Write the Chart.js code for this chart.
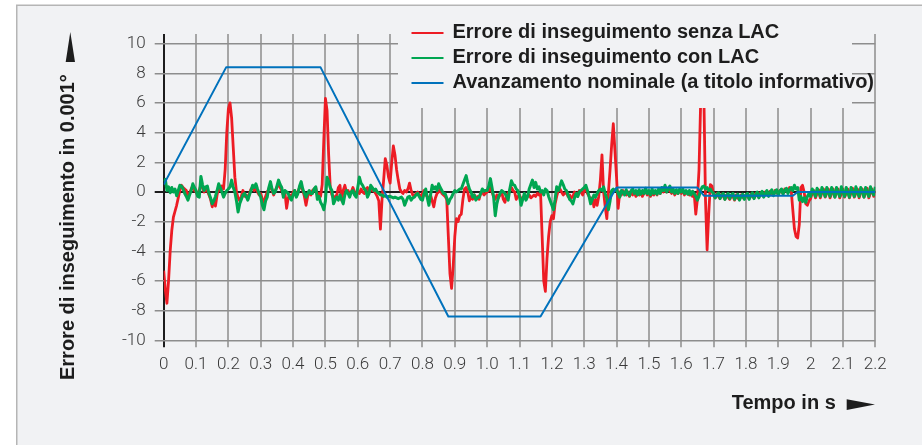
<!DOCTYPE html>
<html>
<head>
<meta charset="utf-8">
<title>Errore di inseguimento</title>
<script src="https://cdn.jsdelivr.net/npm/chart.js@4"></script>
<style>
  html, body { margin: 0; padding: 0; background: #fff; }
  #wrap { width: 922px; height: 445px; }
</style>
</head>
<body>
<div id="wrap"><canvas id="graficoErrore"></canvas></div>
<script>
// campionamento dei due errori: un valore ogni 5 ms, da 0 a 2.2 s
const sampleStep = 0.005;

const errSenzaLac = [
  -5.3, -6.6, -7.5, -6.0, -4.0, -2.6, -1.7, -1.3, -0.9, -0.4,
  0.1, 0.45, 0.3, 0.2, 0.1, -0.3, -0.1, 0.2, 0.4, 0.1,
  0.0, -0.2, 0.1, 0.5, 0.3, 0.0, 0.2, 0.1, -0.2, -0.5,
  -1.0, -0.6, -0.95, -0.2, 0.3, 0.1, 0.4, 0.2, 1.5, 4.0,
  5.6, 6.0, 5.0, 3.0, 1.0, 0.0, -0.4, -0.6, -0.3, 0.1,
  -0.3, -0.2, -0.5, -0.1, 0.2, 0.3, 0.1, 0.3, 0.0, -0.2,
  -0.1, -0.5, -0.7, -0.3, 0.0, 0.2, 0.4, 0.1, -0.2, 0.1,
  0.3, 0.6, 0.3, 0.1, -0.2, -0.1, -1.1, -0.4, -0.2, -0.4,
  0.0, 0.1, -0.3, 0.0, 0.3, 0.4, 0.1, -0.3, -0.9, -0.3,
  0.0, -0.2, 0.1, 0.2, 0.3, -0.2, -0.1, -0.3, 0.5, 3.5,
  6.3, 5.5, 2.5, 0.3, -0.2, -0.4, -0.3, -0.2, 0.3, 0.45,
  -0.55, 0.1, 0.45, 0.0, 0.1, -0.2, 0.0, 0.3, 0.0, -0.2,
  0.0, -0.1, 0.2, 0.0, -0.1, 0.2, 0.3, 0.0, 0.2, 0.1,
  0.1, -0.1, -0.3, -0.6, -2.5, -0.5, 0.8, 2.25, 1.8, 1.0,
  0.6, 2.0, 3.1, 2.5, 1.5, 0.8, 0.2, 0.0, -0.1, 0.1,
  0.0, 0.2, 0.6, 0.1, -0.2, -0.3, -0.1, 0.0, -0.2, -0.3,
  -0.1, 0.1, -0.2, -0.3, -0.5, -0.2, -0.6, -1.0, -0.4, -0.1,
  0.0, 0.2, -0.1, -0.2, -0.3, -0.5, -3.0, -5.5, -6.5, -5.0,
  -3.0, -1.8, -2.0, -1.6, -1.5, -0.5, 0.2, 0.3, 0.0, -0.6,
  -0.3, -0.5, -0.2, -0.4, -0.3, -0.5, -0.1, 0.0, -0.2, -0.1,
  0.0, 0.1, 0.3, 0.0, -0.3, -0.5, -0.2, -0.4, -0.2, 0.0,
  -0.5, -0.7, -0.2, -0.1, 0.1, 0.3, 0.1, 0.0, -0.5, -0.3,
  -0.2, -0.5, -0.4, -0.3, -0.5, -0.3, -0.2, -0.4, -0.3, -0.2,
  -0.3, -0.1, -0.2, 0.0, -3.0, -6.0, -6.7, -4.5, -3.0, -2.0,
  -1.6, -1.8, -0.8, -0.3, 0.1, 0.2, 0.0, -0.2, -0.1, 0.0,
  -0.3, -0.2, -0.4, -0.3, 0.0, -0.1, -0.3, 0.1, 0.0, -0.2,
  0.1, 0.2, -0.1, -0.3, -0.5, -0.4, -1.0, -0.5, -0.9, -0.3,
  0.8, 2.5, 0.0, -1.0, -1.8, 0.0, 1.5, 3.2, 4.6, 2.8,
  1.0, -1.1, 0.0, -0.2, 0.1, -0.1, -0.2, 0.0, -0.3, 0.0,
  -0.2, 0.0, -0.3, -0.1, -0.2, 0.0, -0.3, -0.1, 0.1, -0.2,
  0.0, -0.3, -0.1, -0.2, 0.0, -0.2, 0.1, -0.1, 0.2, 0.0,
  0.3, 0.0, 0.2, 0.1, -0.1, 0.1, -0.2, 0.0, -0.1, 0.1,
  -0.1, 0.1, -0.2, 0.0, -0.1, -0.2, 0.0, -0.3, -0.1, -1.5,
  -0.5, 1.5, 6.0, 10.0, 6.5, -0.5, -3.9, -1.5, 0.5, 0.4,
  -0.2, -0.4, -0.1, -0.3, -0.45, -0.15, -0.3, -0.5, -0.2, -0.35,
  -0.5, -0.25, -0.3, -0.55, -0.2, -0.4, -0.5, -0.2, -0.35, -0.45,
  -0.2, -0.3, -0.45, -0.15, -0.3, -0.4, -0.1, -0.25, -0.35, -0.05,
  -0.2, -0.3, 0.0, -0.15, -0.25, 0.05, -0.1, -0.2, 0.1, -0.05,
  -0.15, 0.1, 0.0, -0.1, 0.2, 0.05, 0.0, 0.3, 0.1, -1.2,
  -2.5, -3.0, -3.1, -2.2, 0.3, 0.45, 0.0, -0.8, -0.9, -0.6,
  -0.45, -0.1, 0.1, -0.4, -0.1, 0.15, -0.4, -0.05, 0.2, -0.35,
  -0.1, 0.2, -0.4, -0.1, 0.2, -0.35, -0.05, 0.2, -0.4, -0.1,
  0.2, -0.35, -0.1, 0.2, -0.4, -0.05, 0.25, -0.35, -0.1, 0.2,
  -0.4, -0.05, 0.2, -0.35, -0.1, 0.25, -0.4, -0.05, 0.2, -0.3,
  0.1
];

const errConLac = [
  0.7, 0.85, 0.1, 0.35, -0.05, 0.3, 0.0, 0.2, -0.25, 0.1,
  0.45, 0.4, 0.2, -0.1, -0.3, -0.55, -0.2, 0.1, 0.55, 0.3,
  0.1, -0.3, -0.35, 1.05, 0.5, 0.1, 0.35, 0.4, -0.1, -0.4,
  -0.8, -0.6, -0.3, 0.1, 0.55, 0.3, 0.0, -0.35, -0.1, 0.1,
  0.2, 0.35, 0.8, 0.3, 0.0, -0.6, -1.35, -0.8, -0.5, -0.2,
  -0.1, -0.3, -0.55, -0.2, 0.1, 0.45, 0.3, 0.55, 0.2, -0.1,
  -0.35, -0.9, -1.2, -0.6, -0.35, 0.3, 0.7, 0.2, -0.1, 0.0,
  0.4, 0.8, 0.5, 0.3, -0.35, 0.1, 0.0, -0.1, -0.4, -0.55,
  -0.2, 0.1, -0.35, -0.1, 0.4, 0.7, 0.2, -0.1, -0.35, -0.1,
  0.1, -0.1, -0.1, 0.2, 0.35, -0.5, -0.3, -0.7, -0.9, -1.2,
  -0.6, 1.0, 0.7, 0.3, 0.1, -0.8, -0.55, -0.35, -0.55, -0.2,
  -0.5, -0.8, -0.2, 0.1, -0.1, -0.35, 0.0, 0.1, -0.2, -0.35,
  0.3, 1.0, 0.6, 0.45, 0.2, 0.1, -0.35, -0.1, 0.45, 0.3,
  0.1, 0.2, 0.0, -0.1, -0.2, -0.2, -0.3, -0.25, -0.35, -0.3,
  -0.3, -0.35, -0.4, -0.35, -0.4, -0.45, -0.4, -0.35, -0.5, -0.9,
  -0.6, -0.35, -0.3, -0.55, -0.4, -0.35, -0.2, -0.1, -0.3, -0.5,
  -0.55, -0.1, 0.2, -0.4, -0.9, -0.2, 0.45, 0.2, 0.35, 0.1,
  0.55, 0.3, 0.1, -0.1, -0.1, -0.4, -0.8, -0.5, -0.35, -0.1,
  0.1, 0.0, 0.1, 0.2, 0.2, 0.5, 0.8, 1.1, 0.6, 0.2,
  0.0, -0.35, -0.2, -0.55, -0.4, -0.35, -0.1, 0.2, 0.05, 0.1,
  0.1, 0.4, 0.9, 0.3, -0.35, -1.6, -0.8, -0.35, -0.1, 0.1,
  0.0, -0.1, -0.3, -0.55, 0.2, 0.75, 0.5, 0.45, 0.2, 0.1,
  -0.3, -0.9, -0.5, -0.1, -0.55, -0.3, 0.2, 0.5, 0.8, 0.3,
  0.65, 0.2, 0.35, 0.0, 0.1, -0.2, 0.2, 0.1, -0.3, -0.6,
  -0.9, -1.2, -0.5, 0.35, 0.1, 0.4, 0.75, 0.5, 0.2, 0.1,
  -0.2, -0.5, -0.6, -0.8, -0.4, -0.1, -0.3, 0.0, 0.1, 0.2,
  0.3, 0.45, 0.1, -0.3, -0.8, -0.5, -0.2, -0.35, -0.1, 0.1,
  0.2, 0.1, 0.35, -0.1, -0.45, -1.2, -0.6, 0.1, 0.2, 0.1,
  0.2, -0.1, -0.35, 0.1, 0.0, -0.2, 0.15, -0.1, -0.25, 0.1,
  0.2, -0.1, 0.1, -0.2, 0.15, -0.15, 0.1, -0.1, 0.25, -0.1,
  0.1, -0.2, 0.2, -0.1, 0.1, -0.15, 0.2, -0.1, 0.3, 0.1,
  0.45, 0.0, 0.2, 0.4, 0.0, 0.2, -0.1, 0.15, -0.1, 0.2,
  0.0, 0.2, -0.1, 0.1, -0.15, 0.1, -0.2, 0.05, -0.1, -0.3,
  -0.55, -0.3, 0.1, 0.35, 0.4, 0.2, 0.3, 0.1, 0.2, 0.0,
  -0.1, -0.4, -0.2, -0.05, -0.45, -0.2, -0.1, -0.5, -0.25, -0.1,
  -0.45, -0.2, -0.1, -0.5, -0.3, -0.15, -0.55, -0.3, -0.15, -0.5,
  -0.2, -0.1, -0.5, -0.25, -0.05, -0.45, -0.2, 0.0, -0.4, -0.15,
  0.05, -0.35, -0.1, 0.1, -0.3, -0.05, 0.15, -0.25, 0.0, 0.15,
  -0.2, 0.05, 0.2, -0.15, 0.1, 0.25, -0.1, 0.15, 0.3, 0.1,
  0.45, 0.2, 0.3, -0.55, -0.3, -0.65, -0.4, -0.7, -0.3, -0.1,
  -0.3, 0.2, 0.0, -0.3, 0.25, 0.0, -0.3, 0.3, 0.0, -0.3,
  0.3, -0.05, -0.3, 0.3, 0.0, -0.35, 0.3, -0.05, -0.3, 0.35,
  0.0, -0.3, 0.3, -0.05, -0.35, 0.3, 0.0, -0.3, 0.35, -0.05,
  -0.3, 0.3, 0.0, -0.35, 0.3, -0.05, -0.3, 0.35, 0.0, -0.2,
  0.35
];

// avanzamento nominale: punti d'angolo del profilo
const avanzTempi = [0, 0.193, 0.485, 0.88, 1.165, 1.40, 1.65, 1.67, 1.945, 1.96, 2.2];
const avanzValori = [0.5, 8.4, 8.4, -8.4, -8.4, 0.3, 0.3, -0.25, -0.25, 0, 0];

const xTickValues = [0, 0.1, 0.2, 0.3, 0.4, 0.5, 0.6, 0.7, 0.8, 0.9, 1.0, 1.1,
  1.2, 1.3, 1.4, 1.5, 1.6, 1.7, 1.8, 1.9, 2.0, 2.1, 2.2];
const xTickLabels = ["0", "0.1", "0.2", "0.3", "0.4", "0.5", "0.6", "0.7", "0.8", "0.9", "1.0", "1.1",
  "1.2", "1.3", "1.4", "1.5", "1.6", "1.7", "1.8", "1.9", "2", "2.1", "2.2"];
const yTickValues = [-10, -8, -6, -4, -2, 0, 2, 4, 6, 8, 10];
const yTickLabels = ["-10", "-8", "-6", "-4", "-2", "0", "2", "4", "6", "8", "10"];

const serieLabels = [
  "Errore di inseguimento senza LAC",
  "Errore di inseguimento con LAC",
  "Avanzamento nominale (a titolo informativo)"
];
const titoloY = "Errore di inseguimento in 0.001°";
const titoloX = "Tempo in s";

const fontBold = 'bold 20px "Liberation Sans", Arial, sans-serif';
const fontTick = { family: 'Roboto, "Liberation Sans", sans-serif', size: 17, weight: 300 };
const coloreSfondo = '#f1f2f4';

function puntiCampionati(valori) {
  return valori.map((v, i) => ({ x: Math.round(i * sampleStep * 1000) / 1000, y: v }));
}

// sfondo del riquadro con bordo sinistro e superiore
const sfondo = {
  id: 'sfondo',
  beforeDraw(chart) {
    const ctx = chart.ctx;
    ctx.save();
    ctx.fillStyle = '#ffffff';
    ctx.fillRect(0, 0, chart.width, chart.height);
    ctx.fillStyle = coloreSfondo;
    ctx.fillRect(17, 5, chart.width - 17, chart.height - 5);
    ctx.strokeStyle = '#b5b5b5';
    ctx.lineWidth = 1.5;
    ctx.beginPath();
    ctx.moveTo(16.75, chart.height);
    ctx.lineTo(16.75, 5.25);
    ctx.lineTo(chart.width, 5.25);
    ctx.stroke();
    ctx.restore();
  }
};

// legenda in alto a destra, su fondo pieno sopra la griglia
const legenda = {
  id: 'legenda',
  afterDatasetsDraw(chart) {
    const ctx = chart.ctx;
    ctx.save();
    ctx.fillStyle = coloreSfondo;
    ctx.fillRect(398, 12, 454, 96);
    ctx.font = fontBold;
    ctx.textBaseline = 'middle';
    ctx.textAlign = 'left';
    chart.data.datasets.forEach((ds, i) => {
      const y = 33 + i * 25;
      ctx.strokeStyle = ds.borderColor;
      ctx.lineWidth = 2;
      ctx.beginPath();
      ctx.moveTo(411.5, y);
      ctx.lineTo(443.5, y);
      ctx.stroke();
      ctx.fillStyle = '#1d1d1d';
      ctx.fillText(ds.label, 452.5, y - 1);
    });
    ctx.restore();
  }
};

// titoli degli assi con le frecce
const titoliAssi = {
  id: 'titoliAssi',
  afterDraw(chart) {
    const ctx = chart.ctx;
    ctx.save();
    ctx.font = fontBold;
    ctx.fillStyle = '#1d1d1d';

    ctx.save();
    ctx.translate(73.5, 380);
    ctx.rotate(-Math.PI / 2);
    ctx.textAlign = 'left';
    ctx.textBaseline = 'alphabetic';
    ctx.fillText(titoloY, 0, 0);
    ctx.restore();

    ctx.beginPath();
    ctx.moveTo(70.3, 32);
    ctx.lineTo(75, 62);
    ctx.lineTo(65.7, 62);
    ctx.closePath();
    ctx.fill();

    ctx.textAlign = 'left';
    ctx.textBaseline = 'alphabetic';
    ctx.fillText(titoloX, 731.7, 409.3);

    ctx.beginPath();
    ctx.moveTo(846.7, 399.3);
    ctx.lineTo(875, 404.5);
    ctx.lineTo(846.7, 410);
    ctx.closePath();
    ctx.fill();
    ctx.restore();
  }
};

const ctx = document.getElementById("graficoErrore").getContext("2d");
new Chart(ctx, {
  type: "line",
  data: {
    datasets: [{
      label: serieLabels[0],
      data: puntiCampionati(errSenzaLac),
      borderColor: "#ed1c24",
      borderWidth: 2.8,
      order: 2
    }, {
      label: serieLabels[1],
      data: puntiCampionati(errConLac),
      borderColor: "#00a651",
      borderWidth: 3,
      order: 1
    }, {
      label: serieLabels[2],
      data: avanzTempi.map((t, i) => ({ x: t, y: avanzValori[i] })),
      borderColor: "#0072bc",
      borderWidth: 2,
      order: 0
    }]
  },
  options: {
    responsive: true,
    maintainAspectRatio: false,
    animation: false,
    events: [],
    elements: {
      point: { radius: 0 },
      line: { tension: 0, borderJoinStyle: 'round', fill: false }
    },
    layout: { padding: { left: 0, top: 34, right: 46.7, bottom: 0 } },
    plugins: {
      legend: { display: false },
      tooltip: { enabled: false }
    },
    scales: {
      x: {
        type: 'linear',
        min: 0,
        max: 2.2,
        afterBuildTicks: s => { s.ticks = xTickValues.map(v => ({ value: v })); },
        afterFit: s => { s.height = 104.7; },
        ticks: {
          autoSkip: false,
          maxRotation: 0,
          padding: 7,
          color: '#3a3a3a',
          font: fontTick,
          callback: (v, i) => xTickLabels[i]
        },
        grid: {
          color: c => (c.tick && c.tick.value === 0 ? '#1d1d1d' : '#a6a6a6'),
          lineWidth: 2,
          tickLength: 7
        },
        border: { display: false }
      },
      y: {
        min: -10,
        max: 10.65,
        afterBuildTicks: s => { s.ticks = yTickValues.map(v => ({ value: v })); },
        afterFit: s => { s.width = 163.7; },
        ticks: {
          padding: 9,
          color: '#3a3a3a',
          font: fontTick,
          callback: (v, i) => yTickLabels[i]
        },
        grid: {
          color: c => (c.tick && c.tick.value === 0 ? '#1d1d1d' : '#8d8d8d'),
          lineWidth: c => (c.tick && c.tick.value === 0 ? 2 : 1.5),
          tickLength: 9
        },
        border: { display: false }
      }
    }
  },
  plugins: [sfondo, legenda, titoliAssi]
});
</script>
</body>
</html>
